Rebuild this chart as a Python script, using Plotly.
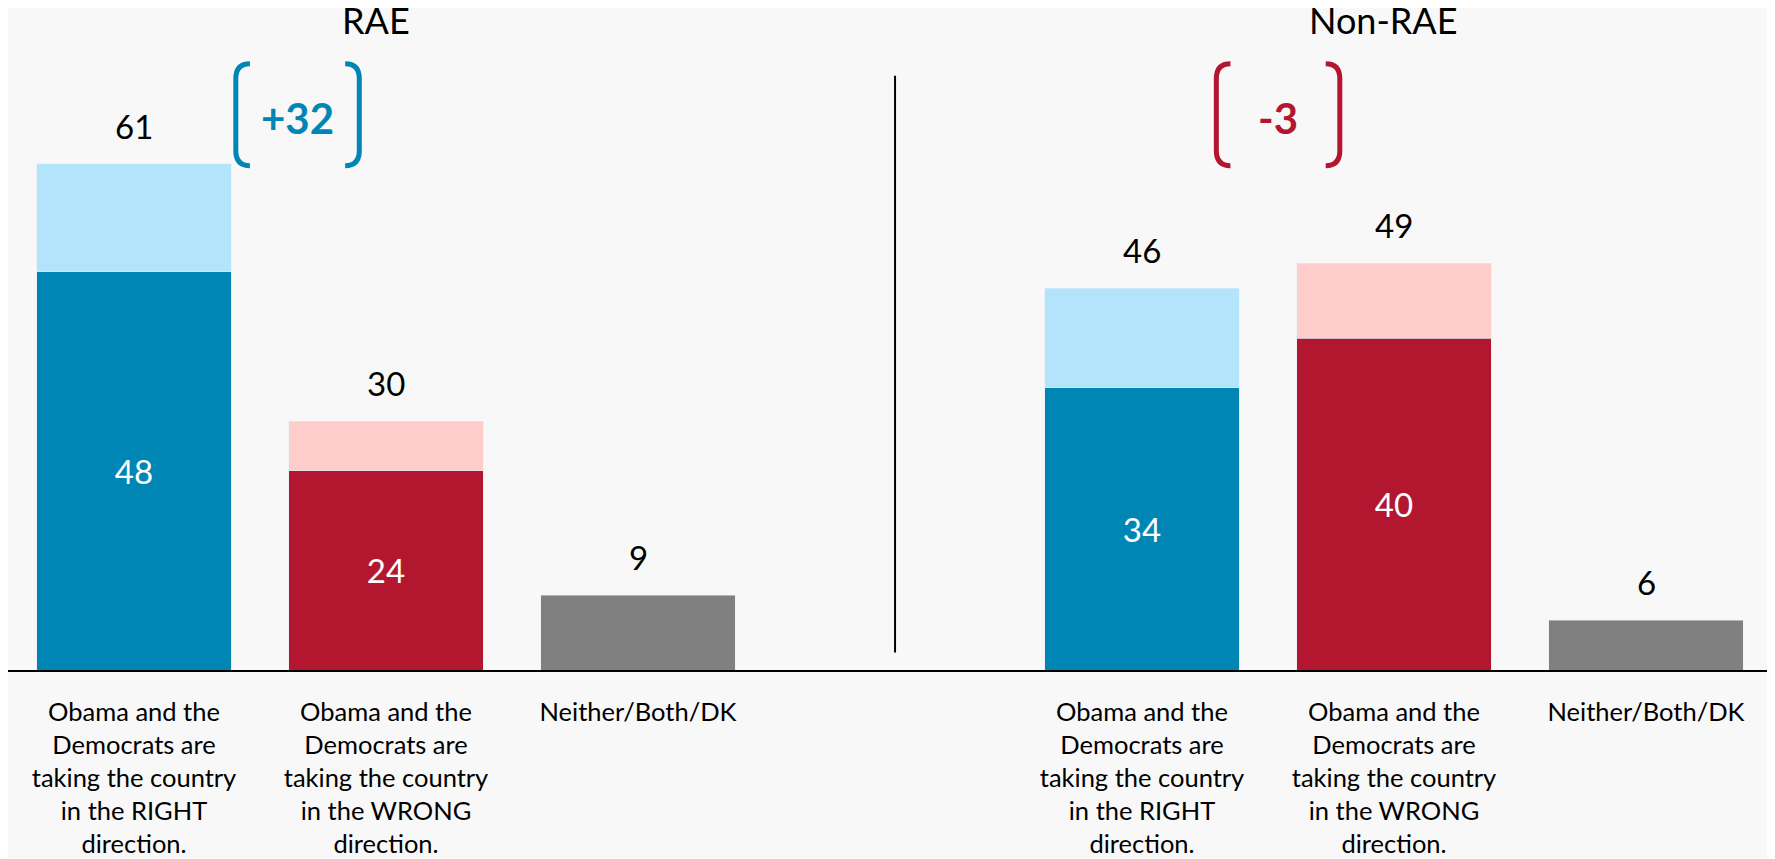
import plotly.graph_objects as go

# survey values (percent)
groups = ["RAE", "Non-RAE"]
categories = [
    "Obama and the<br>Democrats are<br>taking the country<br>in the RIGHT<br>direction.",
    "Obama and the<br>Democrats are<br>taking the country<br>in the WRONG<br>direction.",
    "Neither/Both/DK",
]
rae_total = [61, 30, 9]
rae_strong = [48, 24]
non_rae_total = [46, 49, 6]
non_rae_strong = [34, 40]
net_labels = ["+32", "-3"]

BLUE, LIGHT_BLUE = "#0086B4", "#B3E4FC"
RED, PINK = "#B2172F", "#FFCCCC"
GRAY = "#808080"
BG = "#F8F8F8"
FONT = "Lato"

offsets = [0, 4]  # x position of first bar in each group
totals = [rae_total, non_rae_total]
strongs = [rae_strong, non_rae_strong]

fig = go.Figure()

for g, off in enumerate(offsets):
    xs = [off, off + 1]
    strong = strongs[g]
    soft = [t - s for t, s in zip(totals[g][:2], strong)]
    fig.add_trace(go.Bar(x=xs, y=strong, marker_color=[BLUE, RED], width=0.77,
                         text=strong, textposition="inside", insidetextanchor="middle",
                         textangle=0, textfont=dict(color="white", size=33, family=FONT),
                         showlegend=False))
    fig.add_trace(go.Bar(x=xs, y=soft, marker_color=[LIGHT_BLUE, PINK], width=0.77,
                         showlegend=False))
    fig.add_trace(go.Bar(x=[off + 2], y=[totals[g][2]], marker_color=GRAY, width=0.77,
                         showlegend=False))

    # totals above bars
    for i, t in enumerate(totals[g]):
        fig.add_annotation(x=off + i, y=t, text=str(t), showarrow=False, yanchor="middle",
                           yshift=38, font=dict(size=33, color="black", family=FONT))

    # group title
    fig.add_annotation(x=off + 0.96, y=78.3, text=groups[g], showarrow=False,
                       font=dict(size=36, color="black", family=FONT))

# net difference brackets
def bracket_paths(cx, cy, hw, hh, arm=0.056, r=1.8):
    xl, xr = cx - hw, cx + hw
    yt, yb = cy + hh, cy - hh
    left = (f"M {xl + arm},{yt} Q {xl},{yt} {xl},{yt - r} L {xl},{yb + r} "
            f"Q {xl},{yb} {xl + arm},{yb}")
    right = (f"M {xr - arm},{yt} Q {xr},{yt} {xr},{yt - r} L {xr},{yb + r} "
             f"Q {xr},{yb} {xr - arm},{yb}")
    return left, right

bracket_x = [0.649, 4.54]
bracket_colors = [BLUE, RED]
for cx, lab, col in zip(bracket_x, net_labels, bracket_colors):
    for p in bracket_paths(cx, 66.9, 0.245, 6.15):
        fig.add_shape(type="path", path=p, xref="x", yref="y",
                      line=dict(color=col, width=5))
    fig.add_annotation(x=cx, y=66.5, text=f"<b>{lab}</b>", showarrow=False,
                       font=dict(size=42, color=col, family=FONT))

# divider between groups
fig.add_shape(type="line", x0=3.02, x1=3.02, y0=2.1, y1=71.6, xref="x", yref="y",
              line=dict(color="black", width=2))

tick_vals = [o + i for o in offsets for i in range(3)]
fig.update_layout(
    width=1775, height=859,
    margin=dict(l=0, r=11, t=0, b=197),
    paper_bgcolor=BG, plot_bgcolor=BG,
    barmode="stack",
    font=dict(family=FONT, color="black"),
    xaxis=dict(range=[-0.5, 6.5], tickvals=tick_vals, ticktext=categories * 2,
               tickfont=dict(size=25.5, family=FONT, color="black"),
               showline=True, linecolor="black", linewidth=2,
               ticks="outside", ticklen=18, tickcolor="rgba(0,0,0,0)",
               showgrid=False, zeroline=False, fixedrange=True, automargin=False),
    yaxis=dict(range=[0, 79.76], visible=False, showgrid=False, fixedrange=True),
)

fig.write_html("out.html")
